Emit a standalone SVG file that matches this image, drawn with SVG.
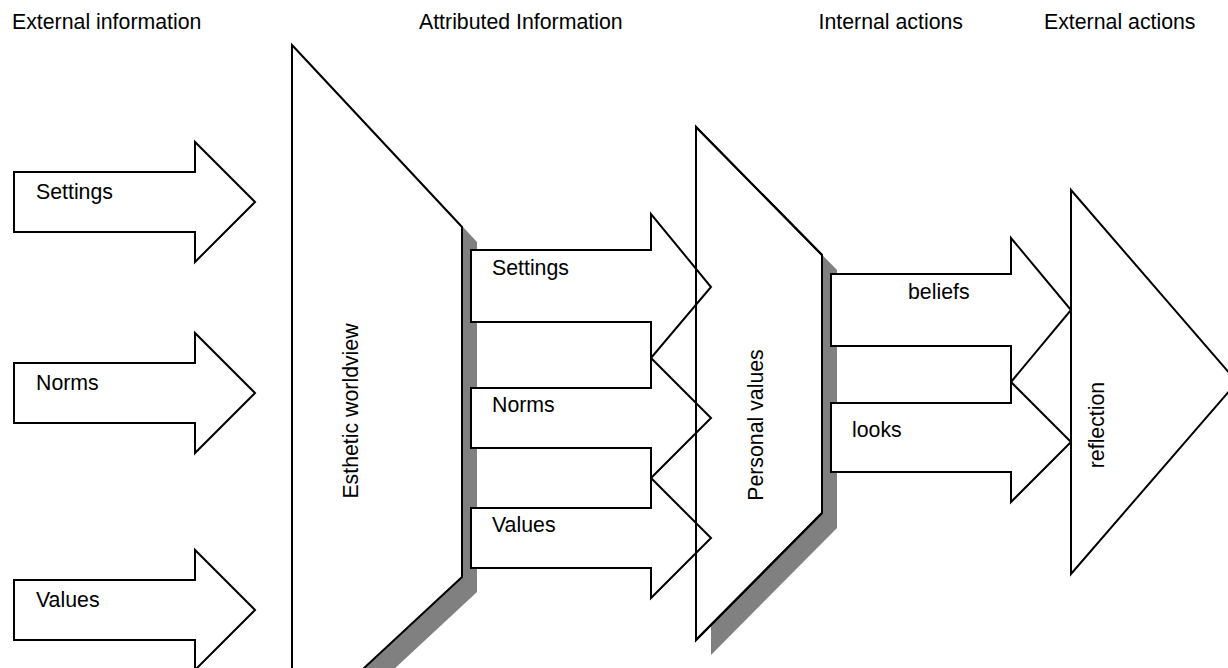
<svg xmlns="http://www.w3.org/2000/svg" width="1228" height="668" viewBox="0 0 1228 668">
<style>
.s{fill:#fff;stroke:#000;stroke-width:2;stroke-linejoin:miter}
.o{fill:none;stroke:#000;stroke-width:2}
.sh{fill:#808080;stroke:none}
text{font-family:"Liberation Sans",Arial,sans-serif;font-size:21.3px;fill:#000}
</style>
<rect width="1228" height="668" fill="#fff"/>
<g id="headers">
<text x="12" y="29">External information</text>
<text x="419" y="29">Attributed Information</text>
<text x="963" y="29" text-anchor="end">Internal actions</text>
<text x="1044" y="29">External actions</text>
</g>
<g id="ext-settings">
<path class="s" d="M14,172 H195 V142 L255,202 L195,262 V232 H14 Z"/>
<text x="36" y="199">Settings</text>
</g>
<g id="ext-norms">
<path class="s" d="M14,363 H195 V333 L255,393 L195,453 V423 H14 Z"/>
<text x="36" y="390">Norms</text>
</g>
<g id="ext-values">
<path class="s" d="M14,580 H195 V550 L255,610 L195,670 V640 H14 Z"/>
<text x="36" y="607">Values</text>
</g>
<g id="esthetic-worldview">
<path class="sh" d="M292,45 L462,227 L462,577 L292,735 Z" transform="translate(15,15)"/>
<path class="s" d="M292,45 L462,227 L462,577 L292,735 Z"/>
<text x="358" y="411" text-anchor="middle" transform="rotate(-90 358 411)">Esthetic worldview</text>
</g>
<g id="personal-values">
<path class="sh" d="M696,127 L822,255 L822,513 L696,640 Z" transform="translate(15,15)"/>
<path class="s" d="M696,127 L822,255 L822,513 L696,640 Z"/>
</g>
<g id="connectors">
<g id="attr-settings">
<path class="s" d="M471,250 H651 V214 L711,287 L651,358 V322 H471 Z"/>
<text x="492" y="275">Settings</text>
</g>
<g id="attr-norms">
<path class="s" d="M471,388 H651 V358 L711,418 L651,478 V448 H471 Z"/>
<text x="492" y="412">Norms</text>
</g>
<g id="attr-values">
<path class="s" d="M471,508 H651 V478 L711,538 L651,598 V568 H471 Z"/>
<text x="492" y="532">Values</text>
</g>
</g>
<g id="personal-values-outline">
<path class="o" d="M696,127 L822,255 L822,513 L696,640 Z"/>
<text x="763" y="425" text-anchor="middle" transform="rotate(-90 763 425)">Personal values</text>
</g>
<g id="int-beliefs">
<path class="s" d="M831,274 H1011 V238 L1071,310 L1011,382 V346 H831 Z"/>
<text x="908" y="299">beliefs</text>
</g>
<g id="int-looks">
<path class="s" d="M831,403 H1011 V382 L1071,442 L1011,502 V472 H831 Z"/>
<text x="852" y="437">looks</text>
</g>
<g id="reflection">
<path class="s" d="M1071,190 L1237,382 L1071,574 Z"/>
<text x="1104" y="425" text-anchor="middle" transform="rotate(-90 1104 425)">reflection</text>
</g>
</svg>
